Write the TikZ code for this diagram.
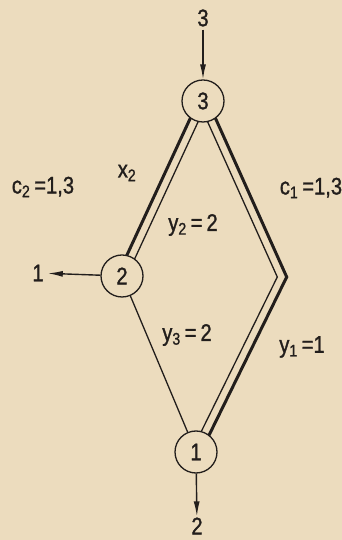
\documentclass[tikz,border=0pt]{standalone}
\usepackage{fontspec}
\setmainfont[FakeStretch=0.84,FakeBold=1.2]{Liberation Sans}
\usetikzlibrary{calc,arrows.meta}
\definecolor{paper}{RGB}{236,220,190}
\definecolor{ink}{RGB}{34,30,28}
\begin{document}
\begin{tikzpicture}[x=1pt,y=1pt,every node/.style={font=\fontsize{24}{26}\selectfont,text=ink},
  vtx/.style={draw=ink,circle,line width=1.3pt,minimum size=42pt,inner sep=0pt},
  thk/.style={draw=ink,line width=3pt,line join=miter,shorten <=20.5pt,shorten >=20.5pt},
  thn/.style={draw=ink,line width=1.3pt,line join=miter,shorten <=20.5pt,shorten >=20.5pt},
  arr/.style={draw=ink,line width=1.4pt,-{Latex[length=15pt,width=6pt]}}]
\useasboundingbox[fill=paper] (0,0) rectangle (342,540);
% Network with three nodes, double edges carry the flow
\node[vtx] (v3) at (203,439) {3};
\node[vtx] (v2) at (122,264) {2};
\node[vtx] (v1) at (196,88) {1};
\coordinate (k) at (282,263);
\node[inner sep=3pt] (in3) at (203,522) {3};
\node[inner sep=1pt] (out2) at (197,14) {2};
\node[inner sep=4pt] (out1) at (38,267) {1};
\draw[arr] (in3)--(v3);
\draw[arr] (v1)--(out2);
\draw[arr] (v2)--(out1);
\draw[thk] ($(v3)!4.3pt!-90:(v2)$)--($(v2)!4.3pt!90:(v3)$);
\draw[thn] ($(v3)!4.3pt!90:(v2)$)--($(v2)!4.3pt!-90:(v3)$);
\draw[thk] ($(v3)!4.3pt!90:(k)$)--($(k)+(4.7,0)$)--($(v1)!4.3pt!-90:(k)$);
\draw[thn] ($(v3)!4.3pt!-90:(k)$)--($(k)+(-4.7,0)$)--($(v1)!4.3pt!90:(k)$);
\draw[draw=ink,line width=1.3pt] (v2)--(v1);
\node (c2) at (43,353) {c\textsubscript{2}\,=1,3};
\node (x2) at (127,367) {x\textsubscript{2}};
\node (y2) at (193,315) {y\textsubscript{2}\,=\,2};
\node (c1) at (311,352) {c\textsubscript{1}\,=1,3};
\node (y3) at (187,205) {y\textsubscript{3}\,=\,2};
\node (y1) at (302,193) {y\textsubscript{1}\,=1};
\end{tikzpicture}
\end{document}
